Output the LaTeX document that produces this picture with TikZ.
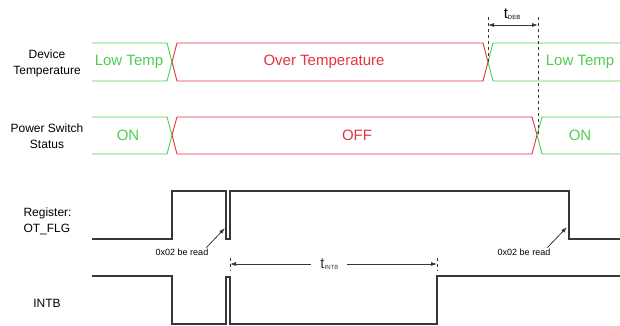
\documentclass[tikz,border=0pt]{standalone}
\usepackage{fontspec}
\setmainfont{Liberation Sans}
\usetikzlibrary{arrows.meta}
\definecolor{tgreen}{RGB}{80,205,80}
\definecolor{tred}{RGB}{228,50,62}
\definecolor{sig}{RGB}{55,55,55}

\begin{document}
\begin{tikzpicture}[x=1pt,y=-1pt,
  lowbus/.style={tgreen, line width=0.9pt},
  hotbus/.style={tred, line width=0.9pt},
  wave/.style={sig, line width=1.3pt},
  lbl/.style={font=\fontsize{12}{16}\selectfont, align=center},
  buslbl/.style={font=\fontsize{15}{18}\selectfont},
  note/.style={font=\fontsize{9}{10}\selectfont, inner sep=1pt},
  dim/.style={{Latex[length=6pt,width=4pt]}-{Latex[length=6pt,width=4pt]}, sig, line width=0.8pt},
  guide/.style={dashed, sig, line width=0.7pt}]
\useasboundingbox (0,0) rectangle (620,325);

% row labels
\node[lbl] (devlbl) at (47,63) {Device\\Temperature};
\node[lbl] (pwrlbl) at (47,136) {Power Switch\\Status};
\node[lbl, align=left, anchor=west] (reglbl) at (20,221) {Register:\\OT\_FLG};
\node[lbl] (intblbl) at (47,303) {INTB};

% device temperature
\draw[lowbus] (92,43) -- (167,43) -- (172,62) -- (167,81) -- (92,81);
\draw[hotbus] (172,62) -- (177,43) -- (483,43) -- (488,62) -- (483,81) -- (177,81) -- cycle;
\draw[lowbus] (620,43) -- (493,43) -- (488,62) -- (493,81) -- (620,81);
\node[buslbl, tgreen] (low1) at (129,62) {Low Temp};
\node[buslbl, tred] (over) at (324,62) {Over Temperature};
\node[buslbl, tgreen] (low2) at (580,62) {Low Temp};

% power switch
\draw[lowbus] (92,117) -- (167,117) -- (172,135) -- (167,154) -- (92,154);
\draw[hotbus] (172,135) -- (177,117) -- (532,117) -- (537,135) -- (532,154) -- (177,154) -- cycle;
\draw[lowbus] (620,117) -- (542,117) -- (537,135) -- (542,154) -- (620,154);
\node[buslbl, tgreen] (on1) at (128,135) {ON};
\node[buslbl, tred] (off) at (357,135) {OFF};
\node[buslbl, tgreen] (on2) at (580,135) {ON};

% t_DEB
\coordinate (debl) at (488,25);
\coordinate (debr) at (538,25);
\draw[guide] (488,17) -- (488,62);
\draw[guide] (538,17) -- (538,135);
\draw[dim] (debl) -- (debr);
\node (tdeb) at (512,14) {\fontsize{15}{15}\selectfont t\raisebox{-1pt}{\fontsize{6}{6}\selectfont DEB}};

% OT_FLG
\draw[wave] (92,239) -- (172,239) -- (172,191) -- (226,191) -- (226,239) -- (230,239)
  -- (230,191) -- (569,191) -- (569,239) -- (620,239);

% INTB
\draw[wave] (92,276) -- (172,276) -- (172,324) -- (226,324) -- (226,277) -- (230,277)
  -- (230,324) -- (437,324) -- (437,276) -- (620,276);

% t_INTB
\coordinate (intbl) at (230,264);
\coordinate (intbr) at (437,264);
\draw[guide, line width=0.5pt] (230,258) -- (230,271);
\draw[guide, line width=0.5pt] (437,258) -- (437,271);
\draw[dim] (intbl) -- node[pos=0.48, fill=white, inner ysep=3pt, inner xsep=9pt] (tintb) {\fontsize{15}{15}\selectfont t\raisebox{-1pt}{\fontsize{6}{6}\selectfont INTB}} (intbr);

% register reads
\node[note] (read1) at (182,252) {0x02 be read};
\node[note] (read2) at (524,252) {0x02 be read};
\coordinate (dip1) at (225,228);
\coordinate (dip2) at (567,227);
\draw[-{Latex[length=6pt,width=4pt]}, sig, line width=0.8pt] ([xshift=-3pt]read1.north east) -- (dip1);
\draw[-{Latex[length=6pt,width=4pt]}, sig, line width=0.8pt] ([xshift=-4pt]read2.north east) -- (dip2);
\end{tikzpicture}
\end{document}
